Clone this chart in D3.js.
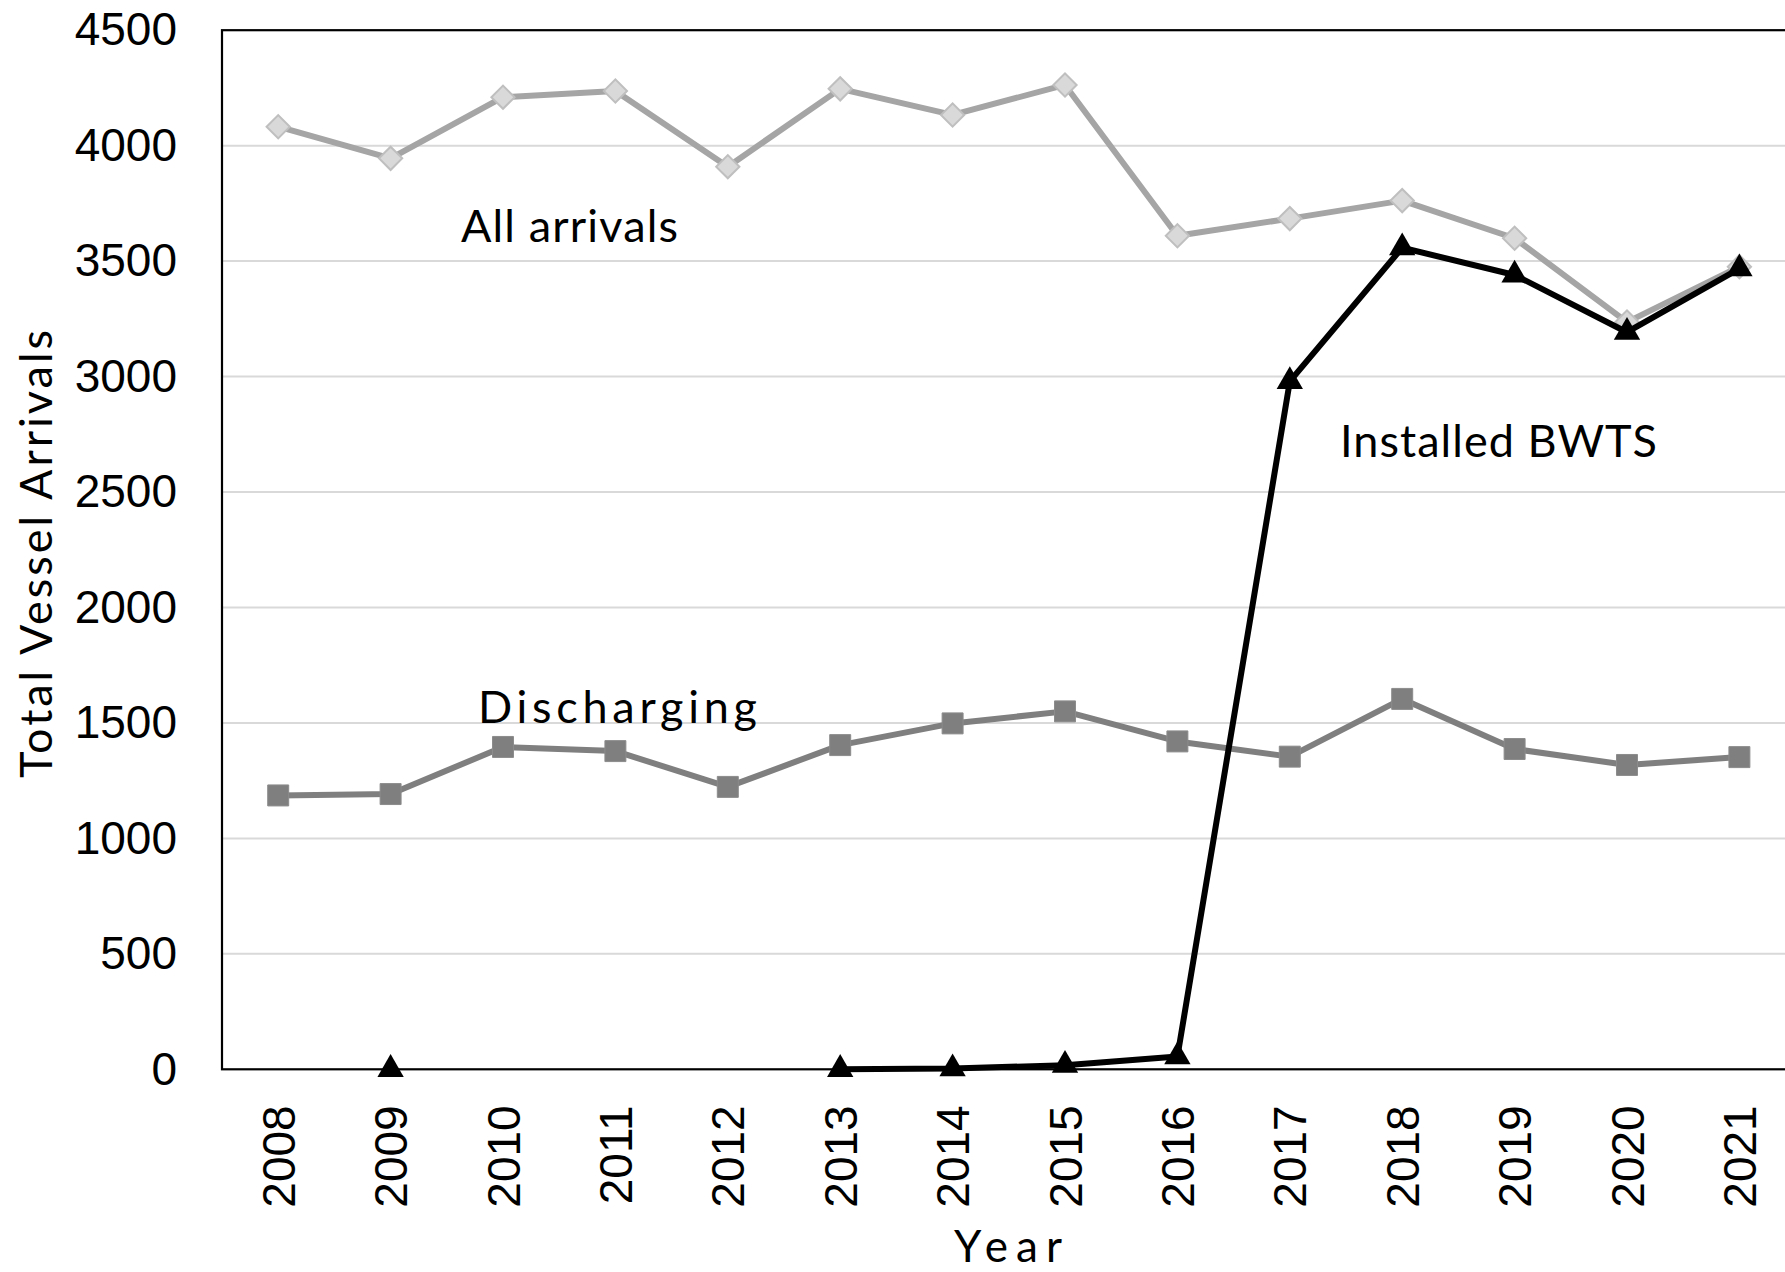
<!DOCTYPE html>
<html>
<head>
<meta charset="utf-8">
<script src="https://cdn.jsdelivr.net/npm/d3@7"></script>
<style>
    body { margin: 0; background: #fff; }
    svg { display: block; }
</style>
</head>
<body>
<div id="chart"></div>
<script>

var years = ['2008','2009','2010','2011','2012','2013','2014','2015','2016','2017','2018','2019','2020','2021'];
var allArrivals = [4082, 3945, 4210, 4237, 3909, 4246, 4133, 4263, 3610, 3684, 3762, 3599, 3236, 3476];
var discharging = [1186, 1192, 1396, 1378, 1223, 1404, 1498, 1550, 1420, 1354, 1604, 1387, 1318, 1352];
var installedBwts = [null, 0, null, null, null, 0, 3, 18, 55, 2979, 3558, 3440, 3192, 3467];
var yTicks = [0, 500, 1000, 1500, 2000, 2500, 3000, 3500, 4000, 4500];

var labelFont = 'Lato, "Open Sans", sans-serif';
var tickFont = '"Liberation Sans", Arial, sans-serif';

draw();

function draw() {
    var W = 1785, H = 1272;
    var left = 222, top = 30.2, bottom = 1069.3, right = 222 + 14 * 112.4;

    let svg = d3.select('#chart')
        .append('svg')
        .attr('width', W)
        .attr('height', H)

    let x = d3.scalePoint().domain(years).range([left, right]).padding(0.5)
    let y = d3.scaleLinear().domain([0, 4500]).range([bottom, top])

    // gridlines
    svg.append('g')
        .selectAll('line')
        .data(yTicks.filter(t => t > 0 && t < 4500))
        .enter().append('line')
        .attr('x1', left).attr('x2', right)
        .attr('y1', d => y(d)).attr('y2', d => y(d))
        .attr('stroke', '#d9d9d9')
        .attr('stroke-width', 2)

    // plot border
    svg.append('rect')
        .attr('x', left).attr('y', top)
        .attr('width', right - left).attr('height', bottom - top)
        .attr('fill', 'none')
        .attr('stroke', '#000')
        .attr('stroke-width', 2.2)

    // y axis
    let yAxis = svg.append('g')
        .attr('transform', 'translate(' + left + ',0)')
        .call(d3.axisLeft(y).tickValues(yTicks).tickFormat(d3.format('d')).tickSize(0).tickPadding(45))
    yAxis.select('.domain').remove()
    yAxis.selectAll('text')
        .attr('font-family', tickFont)
        .attr('font-size', 46)
        .attr('fill', '#000')

    // x axis
    let xAxis = svg.append('g')
        .attr('transform', 'translate(0,' + bottom + ')')
        .call(d3.axisBottom(x).tickSize(0))
    xAxis.select('.domain').remove()
    xAxis.selectAll('text')
        .attr('font-family', tickFont)
        .attr('font-size', 46)
        .attr('fill', '#000')
        .attr('text-anchor', 'end')
        .attr('transform', 'rotate(-90)')
        .attr('x', -36)
        .attr('y', 0)
        .attr('dy', '0.35em')

    // axis titles
    svg.append('text')
        .attr('transform', 'translate(52,554) rotate(-90)')
        .attr('text-anchor', 'middle')
        .attr('font-family', labelFont)
        .attr('font-size', 45)
        .attr('textLength', 448)
        .text('Total Vessel Arrivals')

    svg.append('text')
        .attr('x', 1008).attr('y', 1262)
        .attr('text-anchor', 'middle')
        .attr('font-family', labelFont)
        .attr('font-size', 44)
        .attr('textLength', 108)
        .text('Year')

    let line = d3.line()
        .defined(i => i.v !== null)
        .x(i => x(years[i.i]))
        .y(i => y(i.v))

    function series(values) {
        return values.map((v, i) => ({i: i, v: v}))
    }

    // All arrivals
    svg.append('path')
        .datum(series(allArrivals))
        .attr('fill', 'none')
        .attr('stroke', '#a5a5a5')
        .attr('stroke-width', 6)
        .attr('stroke-linejoin', 'round')
        .attr('d', line)
    svg.append('g').selectAll('path')
        .data(series(allArrivals))
        .enter().append('path')
        .attr('transform', d => 'translate(' + x(years[d.i]) + ',' + y(d.v) + ') rotate(45)')
        .attr('d', d3.symbol().type(d3.symbolSquare).size(270))
        .attr('fill', '#d9d9d9')
        .attr('stroke', '#bfbfbf')
        .attr('stroke-width', 2)

    // Discharging
    svg.append('path')
        .datum(series(discharging))
        .attr('fill', 'none')
        .attr('stroke', '#7f7f7f')
        .attr('stroke-width', 6)
        .attr('stroke-linejoin', 'round')
        .attr('d', line)
    svg.append('g').selectAll('path')
        .data(series(discharging))
        .enter().append('path')
        .attr('transform', d => 'translate(' + x(years[d.i]) + ',' + y(d.v) + ')')
        .attr('d', d3.symbol().type(d3.symbolSquare).size(440))
        .attr('fill', '#7f7f7f')
        .attr('stroke', '#8c8c8c')
        .attr('stroke-width', 1)

    // Installed BWTS
    svg.append('path')
        .datum(series(installedBwts))
        .attr('fill', 'none')
        .attr('stroke', '#000')
        .attr('stroke-width', 6)
        .attr('stroke-linejoin', 'round')
        .attr('d', line)
    svg.append('g').selectAll('path')
        .data(series(installedBwts).filter(d => d.v !== null))
        .enter().append('path')
        .attr('transform', d => 'translate(' + x(years[d.i]) + ',' + y(d.v) + ')')
        .attr('d', d3.symbol().type(d3.symbolTriangle).size(300))
        .attr('fill', '#000')

    // series labels
    svg.append('text')
        .attr('x', 461).attr('y', 242)
        .attr('font-family', labelFont)
        .attr('font-size', 45)
        .attr('textLength', 217)
        .text('All arrivals')

    svg.append('text')
        .attr('x', 478).attr('y', 723)
        .attr('font-family', labelFont)
        .attr('font-size', 45)
        .attr('textLength', 279)
        .text('Discharging')

    svg.append('text')
        .attr('x', 1340).attr('y', 457)
        .attr('font-family', labelFont)
        .attr('font-size', 45)
        .attr('textLength', 317)
        .text('Installed BWTS')
}
</script>
</body>
</html>
